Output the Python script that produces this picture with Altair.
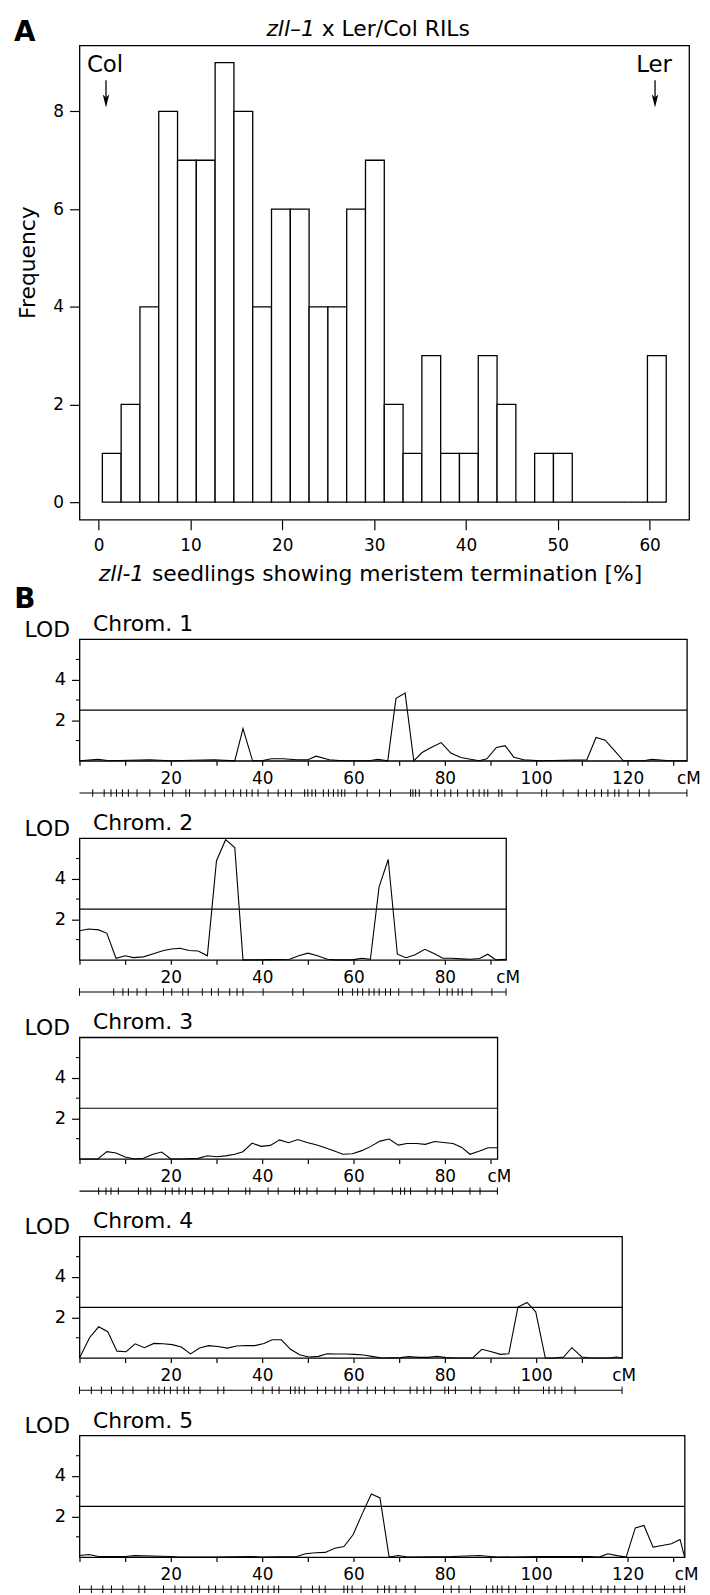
import altair as alt
import pandas as pd

FONT = "DejaVu Sans"

# ---------------- Panel A: histogram ----------------
hist_counts = [1, 2, 4, 8, 7, 7, 9, 8, 4, 6, 6, 4, 4, 6, 7, 2, 1, 3, 1, 1, 3, 2, 0, 1, 1, 0, 0, 0, 0, 3]
HIST_BIN_START = 0.4
HIST_BIN_WIDTH = 2.047
hist_x_ticks = [0, 10, 20, 30, 40, 50, 60]
hist_y_ticks = [0, 2, 4, 6, 8]

# ---------------- Panel B: LOD profiles ----------------
chrom_names = ["Chrom. 1", "Chrom. 2", "Chrom. 3", "Chrom. 4", "Chrom. 5"]
chrom_lengths = [133.0, 93.4, 91.5, 118.8, 132.5]

cm1 = [0, 4.1, 6.5, 15.4, 19.9, 29.5, 34.0, 35.8, 37.9, 39.9, 42.0, 44.6, 47.5, 50.0, 51.8,
       54.7, 57.6, 63.4, 65.3, 67.5, 69.3, 71.3, 73.2, 75.0, 77.0, 79.2, 81.3, 83.5, 85.6, 87.5,
       89.2, 91.3, 93.2, 95.1, 97.3, 101.0, 111.1, 113.1, 115.1, 117.2, 119.1, 123.5, 125.3, 129.2, 133.0]
lod1 = [0, 0.08, 0, 0.05, 0, 0.05, 0, 1.59, 0, 0, 0.1, 0.1, 0.05, 0.05, 0.23,
        0.05, 0, 0, 0.08, 0, 3.08, 3.34, 0, 0.41, 0.66, 0.9, 0.38, 0.16, 0.08, 0,
        0.1, 0.66, 0.75, 0.18, 0.05, 0, 0.05, 1.15, 1.02, 0.49, 0, 0, 0.08, 0, 0]

cm2 = [0, 2.0, 4.2, 6.0, 8.0, 10.0, 11.8, 14.0, 16.2, 18.4, 20.2, 22.0, 24.0, 26.0, 28.0,
       30.0, 32.0, 34.0, 35.8, 38.0, 46.0, 48.0, 50.0, 52.1, 54.3, 56.0, 59.7, 61.8, 63.7, 65.6,
       67.6, 69.6, 71.5, 73.5, 75.6, 77.5, 79.6, 81.5, 83.6, 85.5, 87.6, 89.4, 91.2, 93.4]
lod2 = [1.44, 1.52, 1.48, 1.31, 0.08, 0.2, 0.11, 0.15, 0.3, 0.46, 0.54, 0.57, 0.46, 0.44, 0.2,
        4.89, 5.93, 5.54, 0, 0, 0.03, 0.2, 0.33, 0.2, 0.03, 0, 0, 0.08, 0.03, 3.6,
        4.95, 0.28, 0.11, 0.25, 0.52, 0.33, 0.08, 0.08, 0.05, 0.03, 0.07, 0.28, 0, 0.03]

cm3 = [0, 4.0, 6.0, 8.0, 10.0, 12.1, 14.0, 16.1, 18.0, 20.0, 22.0, 26.0, 28.0, 30.0, 32.0,
       34.0, 35.8, 37.8, 39.8, 41.8, 43.8, 45.8, 47.8, 49.8, 51.8, 53.8, 55.8, 57.7, 59.8, 61.8,
       63.8, 65.8, 67.8, 69.8, 71.7, 73.8, 75.7, 77.8, 79.7, 81.8, 83.7, 85.5, 87.6, 89.5, 91.5]
lod3 = [0, 0, 0.36, 0.29, 0.1, 0, 0.03, 0.23, 0.34, 0, 0, 0.03, 0.16, 0.11, 0.15,
        0.23, 0.36, 0.78, 0.62, 0.67, 0.94, 0.8, 0.96, 0.81, 0.7, 0.55, 0.39, 0.23, 0.26, 0.41,
        0.62, 0.88, 0.98, 0.68, 0.76, 0.76, 0.72, 0.86, 0.81, 0.76, 0.57, 0.23, 0.39, 0.55, 0.55]

cm4 = [0, 2.2, 4.2, 6.2, 8.2, 10.2, 12.2, 14.2, 16.3, 18.3, 20.3, 22.3, 24.3, 26.3, 28.3,
       30.3, 32.4, 34.4, 36.4, 38.4, 40.4, 42.2, 44.2, 46.2, 48.2, 50.2, 52.3, 54.2, 56.2, 58.2,
       60.3, 62.2, 64.3, 66.3, 70.3, 72.1, 74.3, 76.4, 78.3, 80.3, 82.3, 86.1, 88.1, 90.2, 92.2,
       94.0, 96.0, 98.0, 99.9, 102.0, 104.0, 106.0, 107.8, 110.0, 112.0, 115.8, 117.6, 118.8]
lod4 = [0, 1.0, 1.54, 1.3, 0.34, 0.31, 0.7, 0.51, 0.72, 0.7, 0.66, 0.54, 0.2, 0.49, 0.61,
        0.57, 0.49, 0.59, 0.62, 0.61, 0.72, 0.9, 0.9, 0.43, 0.16, 0.05, 0.08, 0.21, 0.2, 0.2,
        0.18, 0.15, 0.07, 0, 0.02, 0.07, 0.03, 0.03, 0.08, 0.02, 0, 0, 0.43, 0.31, 0.18,
        0.21, 2.51, 2.74, 2.28, 0, 0, 0.05, 0.51, 0.05, 0, 0, 0.05, 0]

cm5 = [0, 2.1, 4.1, 10.0, 12.0, 19.9, 21.9, 29.8, 37.7, 39.6, 47.6, 49.5, 51.7, 53.8, 55.9,
       57.9, 59.9, 61.9, 63.9, 65.8, 67.8, 69.8, 71.8, 81.6, 87.6, 90.0, 91.5, 101.4, 111.3, 113.8,
       115.7, 117.7, 119.7, 121.7, 123.6, 125.6, 127.6, 129.6, 131.5, 132.5]
lod5 = [0.08, 0.13, 0.03, 0.03, 0.07, 0.03, 0, 0, 0.03, 0, 0.03, 0.16, 0.21, 0.23, 0.44,
        0.52, 1.1, 2.13, 3.11, 2.92, 0, 0.08, 0, 0.03, 0.08, 0.03, 0, 0.03, 0.03, 0,
        0.16, 0.07, 0, 1.44, 1.56, 0.49, 0.57, 0.66, 0.87, 0]

markers1 = [2.9, 5.4, 6.9, 8.1, 9.4, 10.7, 12.6, 15.4, 18.6, 20.4, 23.3, 24.1, 27.5, 29.7, 32.0,
            33.7, 35.3, 36.6, 37.8, 39.1, 41.3, 43.5, 45.1, 46.4, 49.3, 50.0, 50.9, 51.7, 53.4, 54.5,
            55.6, 56.6, 57.4, 58.1, 60.7, 63.0, 65.7, 68.1, 72.5, 73.0, 73.6, 74.4, 77.0, 78.4, 80.0,
            81.3, 82.8, 84.9, 86.2, 87.5, 88.6, 89.4, 91.8, 92.5, 95.8, 101.2, 102.3, 105.9, 109.2, 111.0,
            112.8, 114.3, 115.7, 117.2, 118.1, 120.1, 122.6, 124.7, 133.0]
markers2 = [0, 7.5, 9.5, 10.7, 12.6, 14.6, 18.4, 20.2, 22.6, 23.8, 26.9, 28.9, 30.4, 32.9, 34.5,
            35.8, 40.2, 46.7, 49.0, 56.7, 57.6, 59.8, 60.9, 62.0, 63.4, 64.5, 65.6, 67.0, 68.1, 69.9,
            72.8, 75.4, 78.8, 80.5, 81.6, 82.9, 83.8, 85.9, 90.3, 93.4]
markers3 = [4.2, 5.8, 6.9, 8.5, 12.9, 14.8, 15.6, 18.8, 20.3, 21.8, 23.2, 24.7, 27.4, 29.2, 32.6,
            36.4, 37.3, 41.3, 43.5, 47.1, 48.2, 49.8, 52.0, 56.0, 58.7, 61.4, 64.5, 68.5, 70.3, 71.2,
            72.5, 76.1, 77.9, 79.4, 81.7, 85.5, 87.7, 91.5]
markers4 = [0, 2.6, 4.8, 7.0, 9.5, 11.7, 15.0, 16.3, 17.4, 18.6, 19.9, 21.4, 22.9, 23.9, 26.4,
            30.3, 31.6, 37.7, 40.2, 42.2, 43.7, 46.2, 47.2, 48.1, 49.3, 52.1, 53.9, 55.9, 57.2, 59.0,
            61.0, 63.0, 64.8, 66.8, 68.9, 72.4, 73.9, 75.4, 76.9, 80.0, 80.8, 82.3, 85.8, 87.7, 91.2,
            95.2, 96.2, 101.6, 102.8, 104.1, 105.6, 108.5, 118.8]
markers5 = [0, 2.6, 5.1, 7.0, 9.5, 13.0, 14.3, 18.4, 20.9, 22.4, 23.5, 24.8, 26.3, 28.3, 29.8,
            31.4, 33.2, 34.7, 36.2, 37.7, 39.0, 40.1, 41.3, 42.6, 43.6, 48.5, 51.0, 52.5, 53.8, 57.9,
            58.7, 59.7, 61.9, 65.3, 66.8, 67.8, 69.3, 71.3, 73.5, 79.7, 81.4, 83.1, 85.6, 89.1, 90.5,
            91.5, 92.5, 94.0, 95.5, 97.9, 99.4, 102.4, 104.4, 106.4, 108.1, 110.3, 112.3, 114.2, 115.7, 117.2,
            119.4, 122.2, 124.1, 126.1, 128.1, 130.1, 131.5, 132.5]

LOD_THRESHOLD = 2.5
lod_major_ticks = [2, 4]
lod_minor_ticks = [1, 3, 5]

cms = [cm1, cm2, cm3, cm4, cm5]
lods = [lod1, lod2, lod3, lod4, lod5]
markers = [markers1, markers2, markers3, markers4, markers5]


def label(text, x, y, size, align="left", baseline="alphabetic", **kw):
    return alt.Chart(alt.Data(values=[{}])).mark_text(
        text=text, font=FONT, fontSize=size, align=align, baseline=baseline, color="black", **kw
    ).encode(x=alt.value(x), y=alt.value(y))


# ---------------- histogram chart ----------------
HW, HH = 614, 477.7
lo = [HIST_BIN_START + i * HIST_BIN_WIDTH for i in range(len(hist_counts))]
hist_df = pd.DataFrame({"lo": lo, "hi": [v + HIST_BIN_WIDTH for v in lo], "n": hist_counts})
hx = alt.Scale(domain=[-2.09, 64.3], nice=False, zero=False)
hy = alt.Scale(domain=[-0.36, 9.35], nice=False, zero=False)

hist_x_axis = alt.Axis(values=hist_x_ticks, title=None, tickSize=10, labelPadding=8,
                       labelFontSize=17, labelFlush=False, labelOverlap=False, grid=False,
                       domain=False, tickColor="black", labelColor="black", labelFont=FONT)
hist_y_axis = alt.Axis(values=hist_y_ticks, title=None, tickSize=10, labelPadding=6,
                       labelFontSize=17, labelOverlap=False, grid=False, domain=False,
                       tickColor="black", labelColor="black", labelFont=FONT)

bars = alt.Chart(hist_df).mark_rect(fill="white", stroke="black", strokeWidth=1.3).encode(
    x=alt.X("lo:Q", scale=hx, axis=hist_x_axis),
    x2="hi:Q",
    y=alt.Y("n:Q", scale=hy, axis=hist_y_axis),
    y2=alt.Y2Datum(0),
)

arrow_shape = "M0,1 L-0.5,-1 L0,-0.55 L0.5,-1 Z"


def arrow(x):
    shaft = alt.Chart(alt.Data(values=[{}])).mark_rule(color="black", strokeWidth=1.3).encode(
        x=alt.value(x), y=alt.value(35), y2=alt.value(57))
    head = alt.Chart(alt.Data(values=[{}])).mark_point(
        shape=arrow_shape, size=169, filled=True, color="black", opacity=1).encode(
        x=alt.value(x), y=alt.value(55.9))
    return [shaft, head]


hist = alt.layer(
    bars,
    label("Col", 25.7, 26.7, 23, align="center"),
    label("Ler", 578.7, 26.7, 23, align="center"),
    *arrow(26.7),
    *arrow(579.7),
    label("zll\u20131", 237, -10, 22, align="right", fontStyle="italic"),
    label("x Ler/Col RILs", 244, -10, 22),
    label("A", -66, -4.3, 28, fontWeight="bold"),
    label("Frequency", -45.3, 218.7, 22, align="center", angle=270),
    label("zll-1", 65.2, 539.4, 22, align="right", fontStyle="italic"),
    label("seedlings showing meristem termination [%]", 73, 539.4, 22),
).properties(width=HW, height=HH)

# ---------------- chromosome panels ----------------
PX_PER_CM = 4.6
CH = 122.5


def chrom_panel(i):
    L = chrom_lengths[i]
    W = L * PX_PER_CM
    xs = alt.Scale(domain=[0, L], nice=False, zero=False)
    ys = alt.Scale(domain=[0, 6], nice=False, zero=False)
    tick_vals = [v for v in range(0, 140, 10) if v <= L]
    x_axis = alt.Axis(values=tick_vals, title=None, tickSize=4.5, labelPadding=5, labelFontSize=17,
                      labelFlush=False, labelOverlap=False, grid=False, domain=False,
                      tickColor="black", labelColor="black", labelFont=FONT,
                      labelExpr="(datum.value % 20 == 0 && datum.value > 0) ? datum.label : ''")
    y_axis = alt.Axis(values=lod_major_ticks, title=None, tickSize=8, labelPadding=6, labelFontSize=18,
                      labelOverlap=False, grid=False, domain=False, tickColor="black",
                      labelColor="black", labelFont=FONT)
    df = pd.DataFrame({"cM": cms[i], "LOD": lods[i]})
    line = alt.Chart(df).mark_line(color="black", strokeWidth=1.1).encode(
        x=alt.X("cM:Q", scale=xs, axis=x_axis),
        y=alt.Y("LOD:Q", scale=ys, axis=y_axis),
    )
    thr = alt.Chart(pd.DataFrame({"LOD": [LOD_THRESHOLD]})).mark_rule(color="black", strokeWidth=1.2).encode(
        y=alt.Y("LOD:Q", scale=ys, axis=y_axis))
    minor = alt.Chart(pd.DataFrame({"LOD": lod_minor_ticks})).mark_rule(color="black", strokeWidth=1.1).encode(
        y=alt.Y("LOD:Q", scale=ys, axis=y_axis), x=alt.value(-3.5), x2=alt.value(0))
    mline = alt.Chart(pd.DataFrame({"cM": [0], "end": [L]})).mark_rule(color="black", strokeWidth=1.1).encode(
        x=alt.X("cM:Q", scale=xs, axis=x_axis), x2="end:Q", y=alt.value(CH + 32.4))
    mticks = alt.Chart(pd.DataFrame({"cM": markers[i]})).mark_tick(
        orient="vertical", size=7.5, thickness=1, color="black", opacity=1).encode(
        x=alt.X("cM:Q", scale=xs, axis=x_axis), y=alt.value(CH + 32.4))
    layers = [line, thr, minor, mline, mticks,
              label("cM", W + 2, CH + 23.4, 17, align="center"),
              label("LOD", -55.3, -2.7, 22),
              label(chrom_names[i], 13.7, -8, 22)]
    if i == 0:
        layers.append(label("B", -65.7, -31, 28, fontWeight="bold"))
    return alt.layer(*layers).properties(width=W, height=CH)


panels = alt.vconcat(*[chrom_panel(i) for i in range(5)], spacing=77.5, bounds="flush")

chart = alt.vconcat(hist, panels, spacing=120, bounds="flush").properties(
    padding={"top": 3, "left": 5, "right": 0, "bottom": 0},
    background="white",
).configure_view(
    stroke="black", strokeWidth=1.3
).configure_axis(
    labelFont=FONT, labelColor="black", tickColor="black", tickWidth=1.2,
    domain=False, grid=False, labelFontSize=17
)

chart.save("out.html", embed_options={"renderer": "svg", "actions": False})
